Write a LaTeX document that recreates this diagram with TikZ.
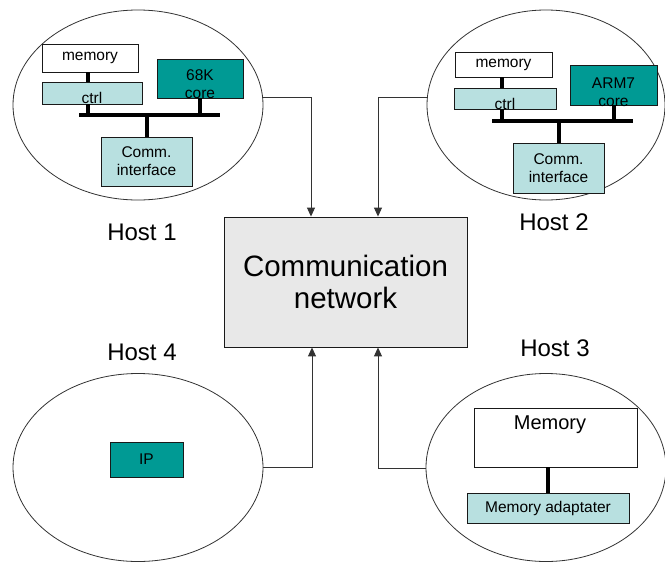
\documentclass[tikz,border=0pt]{standalone}
\usepackage{fontspec}
\setmainfont{Liberation Sans}
\usetikzlibrary{shapes.geometric,arrows.meta}
\definecolor{teal1}{HTML}{009A94}
\definecolor{cyan1}{HTML}{B8E0E0}
\definecolor{gray1}{HTML}{E8E8E8}
\tikzset{
  host/.style={draw=black!80, line width=0.8pt, ellipse, inner sep=0pt, fill=white},
  blk/.style={draw=black!90, line width=0.9pt, rectangle, inner sep=0pt, font=\fontsize{15.5}{18}\selectfont, align=center},
  wbox/.style={blk, fill=white},
  cbox/.style={blk, fill=cyan1},
  tbox/.style={blk, fill=teal1},
  txt/.style={inner sep=0pt, font=\fontsize{15.5}{18}\selectfont, align=center},
  bus/.style={line width=4.2pt},
  link/.style={line width=4pt},
  conn/.style={draw=black!80, line width=1pt, -{Triangle[length=9pt,width=8pt]}},
  hostlbl/.style={inner sep=0pt, font=\fontsize{24}{26}\selectfont},
}
\begin{document}
\begin{tikzpicture}[x=1pt,y=-1pt]
\useasboundingbox[fill=white] (0,0) rectangle (665,563);

% ellipses
\node[host, minimum width=250pt, minimum height=190pt] (h1) at (138,105) {};
\node[host, minimum width=238pt, minimum height=190pt] (h2) at (546,105) {};
\node[host, minimum width=250pt, minimum height=188pt] (h4) at (138,467.5) {};
\node[host, minimum width=240pt, minimum height=188pt] (h3) at (546,467.5) {};

% network
\node[draw=black!90, line width=0.9pt, fill=gray1, minimum width=243pt, minimum height=130pt, inner sep=0pt,
      font=\fontsize{29.5}{32}\selectfont, align=center] (net) at (345.5,282) {Communication\\network};

% Host 1 internals
\node[wbox, minimum width=96pt, minimum height=28pt] (mem1) at (90,58) {memory};
\node[cbox, minimum width=100pt, minimum height=22pt] (ctrl1) at (92,93) {};
\node[txt] (ctrl1t) at (92,98) {ctrl};
\node[tbox, minimum width=86pt, minimum height=39pt] (core1) at (200,78.5) {};
\node[txt] (core1t) at (200,84) {68K\\core};
\node[cbox, minimum width=91pt, minimum height=49pt] (comm1) at (146.5,161.5) {Comm.\\interface};
\coordinate (b1l) at (79,115);
\coordinate (b1r) at (220,115);
\draw[bus] (b1l) -- (b1r);
\draw[link] (mem1.south -| 88,0) -- (ctrl1.north -| 88,0);
\draw[link] (ctrl1.south -| 88,0) -- (b1l -| 88,0);
\draw[link] (core1.south) -- (b1l -| core1.south);
\draw[link] (b1l -| comm1.north) -- (comm1.north);

% Host 2 internals
\node[wbox, minimum width=97pt, minimum height=25pt] (mem2) at (503.5,64.5) {memory};
\node[cbox, minimum width=102pt, minimum height=21pt] (ctrl2) at (505,98.5) {};
\node[txt] (ctrl2t) at (505,104) {ctrl};
\node[tbox, minimum width=87pt, minimum height=40pt] (core2) at (613.5,85) {};
\node[txt] (core2t) at (613.5,92) {ARM7\\core};
\node[cbox, minimum width=91pt, minimum height=50pt] (comm2) at (558.5,168) {Comm.\\interface};
\coordinate (b2l) at (492,121);
\coordinate (b2r) at (633,121);
\draw[bus] (b2l) -- (b2r);
\draw[link] (mem2.south -| 502,0) -- (ctrl2.north -| 502,0);
\draw[link] (ctrl2.south -| 502,0) -- (b2l -| 502,0);
\draw[link] (core2.south) -- (b2l -| core2.south);
\draw[link] (b2l -| comm2.north) -- (comm2.north);

% Host 3 internals
\node[wbox, minimum width=163pt, minimum height=59pt] (mem3) at (555.5,437.5) {};
\node[inner sep=0pt, font=\fontsize{20}{22}\selectfont] (mem3t) at (550,425) {Memory};
\node[cbox, minimum width=162pt, minimum height=30pt] (adapt) at (548,508) {Memory adaptater};
\draw[link] (mem3.south -| adapt.north) -- (adapt.north);

% Host 4 internals
\node[tbox, minimum width=73pt, minimum height=35pt] (ip) at (146.5,459.5) {IP};

% labels
\node[hostlbl] (l1) at (142,232) {Host 1};
\node[hostlbl] (l2) at (554,222) {Host 2};
\node[hostlbl] (l4) at (142,352) {Host 4};
\node[hostlbl] (l3) at (555,348) {Host 3};

% connectors
\coordinate (h1o) at (263,97);
\coordinate (h2o) at (427.5,97);
\coordinate (h4o) at (263,467);
\coordinate (h3o) at (426,468);
\draw[conn] (h1o) -| ([xshift=-34.5pt]net.north);
\draw[conn] (h2o) -| ([xshift=32.5pt]net.north);
\draw[conn] (h4o) -| ([xshift=-33.5pt]net.south);
\draw[conn] (h3o) -| ([xshift=32.5pt]net.south);
\end{tikzpicture}
\end{document}
